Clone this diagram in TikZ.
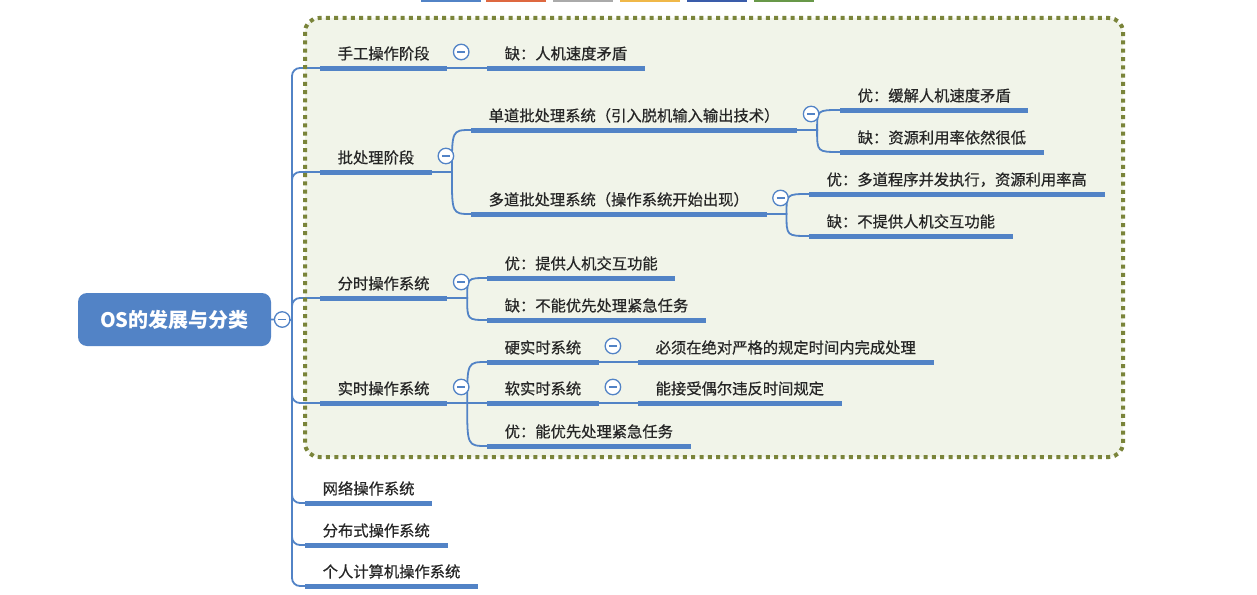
\documentclass[tikz,border=0pt]{standalone}
\usepackage{fontspec}
\setmainfont{Noto Sans CJK SC}
\newfontfamily\mapfont{Noto Sans CJK SC}[FakeBold=0.6]
\definecolor{mapblue}{RGB}{82,131,198}
\definecolor{ink}{RGB}{38,38,38}
\definecolor{framefill}{RGB}{241,244,233}
\definecolor{frameline}{RGB}{122,132,58}
\definecolor{barA}{RGB}{82,131,198}
\definecolor{barB}{RGB}{222,104,64}
\definecolor{barC}{RGB}{170,170,170}
\definecolor{barD}{RGB}{240,184,72}
\definecolor{barE}{RGB}{58,92,170}
\definecolor{barF}{RGB}{104,152,72}

\begin{document}
\begin{tikzpicture}[x=1pt,y=-1pt,
  topic/.style={anchor=south west,inner xsep=17.5pt,inner ysep=8.5pt,text depth=0pt,text=ink,font=\mapfont\fontsize{15.3}{18}\selectfont},
  rootbox/.style={fill=mapblue,rounded corners=9pt,minimum width=193pt,minimum height=53pt,text=white,font=\bfseries\fontsize{20}{24}\selectfont},
  uline/.style={mapblue,line width=5pt},
  conn/.style={mapblue,line width=1.8pt},
  frame/.style={frameline,line width=4pt,dash pattern=on 4pt off 4.3pt,rounded corners=14pt},
  knob/.style={circle,draw=mapblue,line width=1.3pt,fill=white,minimum size=15.5pt,inner sep=0pt,
    path picture={\draw[mapblue,line width=1.3pt] ([xshift=-4pt]path picture bounding box.center) -- ([xshift=4pt]path picture bounding box.center);}}]
\useasboundingbox (0,0) rectangle (1257,594);
\foreach \xa/\col in {421/barA,486/barB,553/barC,620/barD,687/barE,754/barF}{\fill[\col] (\xa,0) rectangle ++(60,2);}
\fill[framefill,rounded corners=14pt] (305,18) rectangle (1123,457);

\node[rootbox] (root) at (174.5,319.5) {OS的发展与分类};

\node[topic] (b1) at (320,68) {手工操作阶段};
\node[topic] (c11) at (487,68) {缺：人机速度矛盾};
\node[topic] (b2) at (320,172) {批处理阶段};
\node[topic] (c21) at (471,130) {单道批处理系统（引入脱机输入输出技术）};
\node[topic] (c211) at (840,110) {优：缓解人机速度矛盾};
\node[topic] (c212) at (840,152) {缺：资源利用率依然很低};
\node[topic] (c22) at (471,214) {多道批处理系统（操作系统开始出现）};
\node[topic] (c221) at (809,194) {优：多道程序并发执行，资源利用率高};
\node[topic] (c222) at (809,236) {缺：不提供人机交互功能};
\node[topic] (b3) at (320,298) {分时操作系统};
\node[topic] (c31) at (487,278) {优：提供人机交互功能};
\node[topic] (c32) at (487,320) {缺：不能优先处理紧急任务};
\node[topic] (b4) at (320,403) {实时操作系统};
\node[topic] (c41) at (487,362) {硬实时系统};
\node[topic] (c411) at (638,362) {必须在绝对严格的规定时间内完成处理};
\node[topic] (c42) at (487,403) {软实时系统};
\node[topic] (c421) at (638,403) {能接受偶尔违反时间规定};
\node[topic] (c43) at (487,446) {优：能优先处理紧急任务};
\node[topic] (b5) at (305,503) {网络操作系统};
\node[topic] (b6) at (305,545) {分布式操作系统};
\node[topic] (b7) at (305,586) {个人计算机操作系统};

\coordinate (trunk) at (292,320);
\draw[conn] (root.east) -- (trunk);
\foreach \b in {b1,b2,b3,b4,b5,b6,b7}{\draw[conn,rounded corners=8pt] (trunk) |- (\b.south west);}
\foreach \p/\c in {b1/c11,b2/c21,b2/c22,c21/c211,c21/c212,c22/c221,c22/c222,b3/c31,b3/c32,b4/c41,b4/c42,b4/c43,c41/c411,c42/c421}{
  \coordinate (bp) at ([xshift=20pt]\p.south east);
  \draw[conn] (\p.south east) -- (bp) .. controls (bp |- \c.south west) .. (\c.south west);
}
\foreach \n in {b1,c11,b2,c21,c211,c212,c22,c221,c222,b3,c31,c32,b4,c41,c411,c42,c421,c43,b5,b6,b7}{\draw[uline] (\n.south west) -- (\n.south east);}

\draw[frame] (305,18) rectangle (1123,457);

\node[knob] (k-root) at ([xshift=11pt]root.east) {};
\foreach \p in {b1,b2,c21,c22,b3,b4,c41,c42}{\node[knob] (k-\p) at ([shift={(14,-16)}]\p.south east) {};}
\end{tikzpicture}
\end{document}
